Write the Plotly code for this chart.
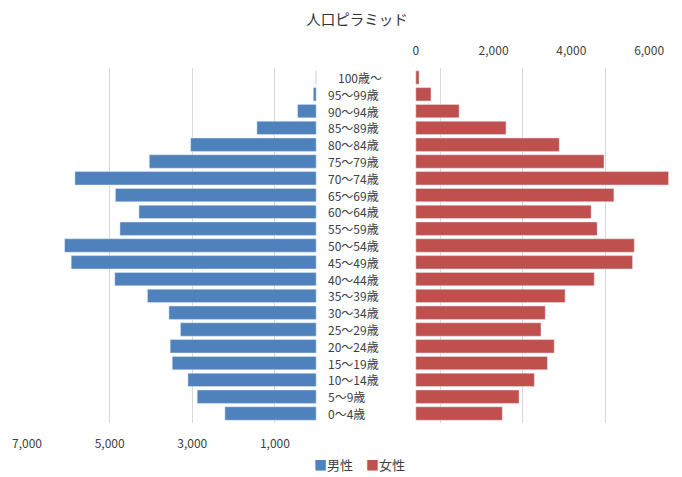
import plotly.graph_objects as go

# Age groups, youngest first (bottom of the pyramid)
age_groups = [
    "0～4歳", "5～9歳", "10～14歳", "15～19歳", "20～24歳", "25～29歳",
    "30～34歳", "35～39歳", "40～44歳", "45～49歳", "50～54歳", "55～59歳",
    "60～64歳", "65～69歳", "70～74歳", "75～79歳", "80～84歳", "85～89歳",
    "90～94歳", "95～99歳", "100歳～",
]
male = [2210, 2880, 3105, 3485, 3535, 3285, 3565, 4085, 4875, 5930, 6090,
        4750, 4290, 4860, 5840, 4040, 3040, 1435, 450, 70, 10]
female = [2225, 2655, 3050, 3385, 3560, 3220, 3330, 3840, 4590, 5575, 5620,
          4665, 4510, 5095, 6500, 4840, 3690, 2320, 1115, 390, 85]

male_ticks = [-7000, -5000, -3000, -1000, 3000, 5000, 7000]
male_tick_text = ["7,000", "5,000", "3,000", "1,000", "", "", ""]
female_ticks = [0, 2000, 4000, 6000]
female_tick_text = ["0", "2,000", "4,000", "6,000"]

BLUE = "#4F81BD"
RED = "#C0504D"
TEXT = "#404040"
FONT = "Noto Sans CJK JP"

fig = go.Figure()
fig.add_trace(go.Bar(
    y=age_groups, x=[-v for v in male], orientation="h", name="男性",
    marker=dict(color=BLUE), xaxis="x", yaxis="y", showlegend=False,
))
fig.add_trace(go.Bar(
    y=age_groups, x=female, orientation="h", name="女性",
    marker=dict(color=RED), xaxis="x2", yaxis="y", showlegend=False,
))

# Age labels in the gap between the two halves
for g in age_groups:
    fig.add_annotation(
        x=0, y=g, xref="x", yref="y", text=g, showarrow=False,
        xanchor="left", yanchor="middle", borderpad=0,
        xshift=11 + (10 if g == "100歳～" else 0),
        font=dict(family=FONT, size=12, color=TEXT),
    )

# Legend line under the chart
fig.add_annotation(
    x=0.508, y=-0.118, xref="paper", yref="paper", showarrow=False,
    xanchor="center", yanchor="middle",
    text=(f"<span style='color:{BLUE}'>■</span>男性　"
          f"<span style='color:{RED}'>■</span>女性"),
    font=dict(family=FONT, size=13, color=TEXT),
)

fig.update_layout(
    width=682, height=477,
    margin=dict(l=27, r=0, t=68, b=54),
    paper_bgcolor="white", plot_bgcolor="white",
    font=dict(family=FONT, size=12, color=TEXT),
    bargap=0.2,
    title=dict(text="人口ピラミッド", x=357 / 682, xanchor="center",
               y=1 - 20 / 477, yanchor="middle", xref="container", yref="container",
               font=dict(family=FONT, size=14.5, color="#333333")),
    xaxis=dict(range=[-7000, 8855], tickvals=male_ticks, ticktext=male_tick_text,
               showgrid=True, gridcolor="#D9D9D9", gridwidth=1, zeroline=False,
               showline=False, ticks="", side="bottom", ticklabelstandoff=12,
               tickfont=dict(family=FONT, size=12, color=TEXT)),
    xaxis2=dict(range=[-10000, 6846], tickvals=female_ticks, ticktext=female_tick_text,
                overlaying="x", side="top", showgrid=False, zeroline=False,
                showline=False, ticks="", ticklabelstandoff=10,
                tickfont=dict(family=FONT, size=12, color=TEXT)),
    yaxis=dict(showticklabels=False, showgrid=False, zeroline=False, ticks="",
               categoryorder="array", categoryarray=age_groups),
    showlegend=False,
)

fig.write_html("out.html")
